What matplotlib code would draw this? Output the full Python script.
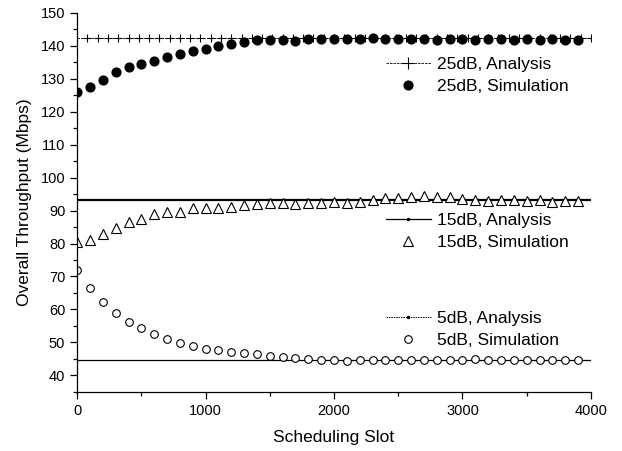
import matplotlib
matplotlib.use("Agg")
import matplotlib.pyplot as plt
from matplotlib.lines import Line2D
from matplotlib.ticker import MultipleLocator

plt.rcParams["font.family"] = ["Liberation Sans", "DejaVu Sans"]

# ---- data -----------------------------------------------------------
sim_slots = list(range(0, 4000, 100))
ana_slots = list(range(0, 4001, 80))

sim_25 = [126.0, 127.3, 129.7, 132.0, 133.5, 134.4, 135.3, 136.6, 137.6, 138.4,
          139.0, 139.8, 140.4, 141.0, 141.7, 141.8, 141.6, 141.5, 142.0, 142.0,
          142.1, 142.1, 142.0, 142.3, 142.1, 142.0, 142.1, 142.0, 141.8, 141.9,
          142.0, 141.8, 142.1, 142.0, 141.8, 142.0, 141.6, 141.9, 141.8, 141.7]
sim_15 = [80.5, 81.0, 82.8, 84.6, 86.5, 87.4, 88.9, 89.5, 89.7, 90.7,
          90.7, 90.7, 91.2, 91.7, 91.9, 92.2, 92.2, 92.0, 92.2, 92.4,
          92.5, 92.4, 92.7, 93.2, 93.7, 93.9, 94.2, 94.4, 94.2, 94.0,
          93.4, 93.2, 93.0, 93.2, 93.2, 93.0, 93.2, 92.6, 93.0, 92.8]
sim_5 = [72.0, 66.5, 62.2, 58.9, 56.1, 54.3, 52.5, 51.1, 49.8, 48.8,
         48.0, 47.8, 47.1, 46.7, 46.5, 46.0, 45.5, 45.2, 44.9, 44.7,
         44.7, 44.5, 44.7, 44.6, 44.6, 44.6, 44.7, 44.6, 44.6, 44.8,
         44.8, 45.1, 44.7, 44.7, 44.7, 44.6, 44.7, 44.7, 44.7, 44.7]

level_25, level_15, level_5 = 142.2, 93.1, 44.7
ana_25 = [level_25] * len(ana_slots)
ana_15 = [level_15] * len(ana_slots)
ana_5 = [level_5] * len(ana_slots)

# ---- figure ----------------------------------------------------------
fig = plt.figure(figsize=(6.22, 4.51), dpi=100)
ax = fig.add_axes([0.124, 0.131, 0.826, 0.841])

ax.plot(ana_slots, ana_25, color="black", lw=0.6, ls=(0, (3, 1.2)),
        marker="+", ms=6, mew=0.8, markevery=slice(1, None))
l25s, = ax.plot(sim_slots, sim_25, ls="none", marker="o", ms=6.3,
                mfc="black", mec="black")
ax.plot(ana_slots, ana_15, color="black", lw=1.6)
l15s, = ax.plot(sim_slots, sim_15, ls="none", marker="^", ms=6.5,
                mfc="white", mec="black", mew=0.8)
ax.plot(ana_slots, ana_5, color="black", lw=0.9)
l5s, = ax.plot(sim_slots, sim_5, ls="none", marker="o", ms=5.5,
               mfc="white", mec="black", mew=0.8)

# legend keys for the analysis curves (as drawn in the original legend)
h25a = Line2D([], [], color="black", lw=0.6, ls=(0, (3, 1.2)),
              marker="+", ms=9, mew=0.8)
h15a = Line2D([], [], color="black", lw=0.9, marker=".", ms=3)
h5a = Line2D([], [], color="black", lw=0.7, ls=(0, (1.5, 1)),
             marker=".", ms=3)

ax.set_xlim(0, 4000)
ax.set_ylim(35, 150)
ax.xaxis.set_major_locator(MultipleLocator(1000))
ax.xaxis.set_minor_locator(MultipleLocator(500))
ax.yaxis.set_minor_locator(MultipleLocator(5))
ax.set_yticks(range(40, 151, 10))
ax.tick_params(which="major", direction="out", length=5, width=0.9, labelsize=10.5)
ax.tick_params(which="minor", direction="out", length=3, width=0.9)
for s in ("top", "right"):
    ax.spines[s].set_visible(False)
for s in ("left", "bottom"):
    ax.spines[s].set_linewidth(0.9)

ax.set_xlabel("Scheduling Slot", fontsize=12.5, labelpad=9)
ax.set_ylabel("Overall Throughput (Mbps)", fontsize=12.5, labelpad=6)

leg_kw = dict(frameon=False, fontsize=12.5, handlelength=2.6, handletextpad=0.35,
              labelspacing=0.4, borderaxespad=0, loc="upper left")
leg1 = ax.legend([h25a, l25s], ["25dB, Analysis", "25dB, Simulation"],
                 bbox_to_anchor=(0.587, 0.902), **leg_kw)
ax.add_artist(leg1)
leg2 = ax.legend([h15a, l15s], ["15dB, Analysis", "15dB, Simulation"],
                 bbox_to_anchor=(0.587, 0.491), **leg_kw)
ax.add_artist(leg2)
ax.legend([h5a, l5s], ["5dB, Analysis", "5dB, Simulation"],
          bbox_to_anchor=(0.587, 0.233), **leg_kw)

fig.savefig("out.png", dpi=100)
